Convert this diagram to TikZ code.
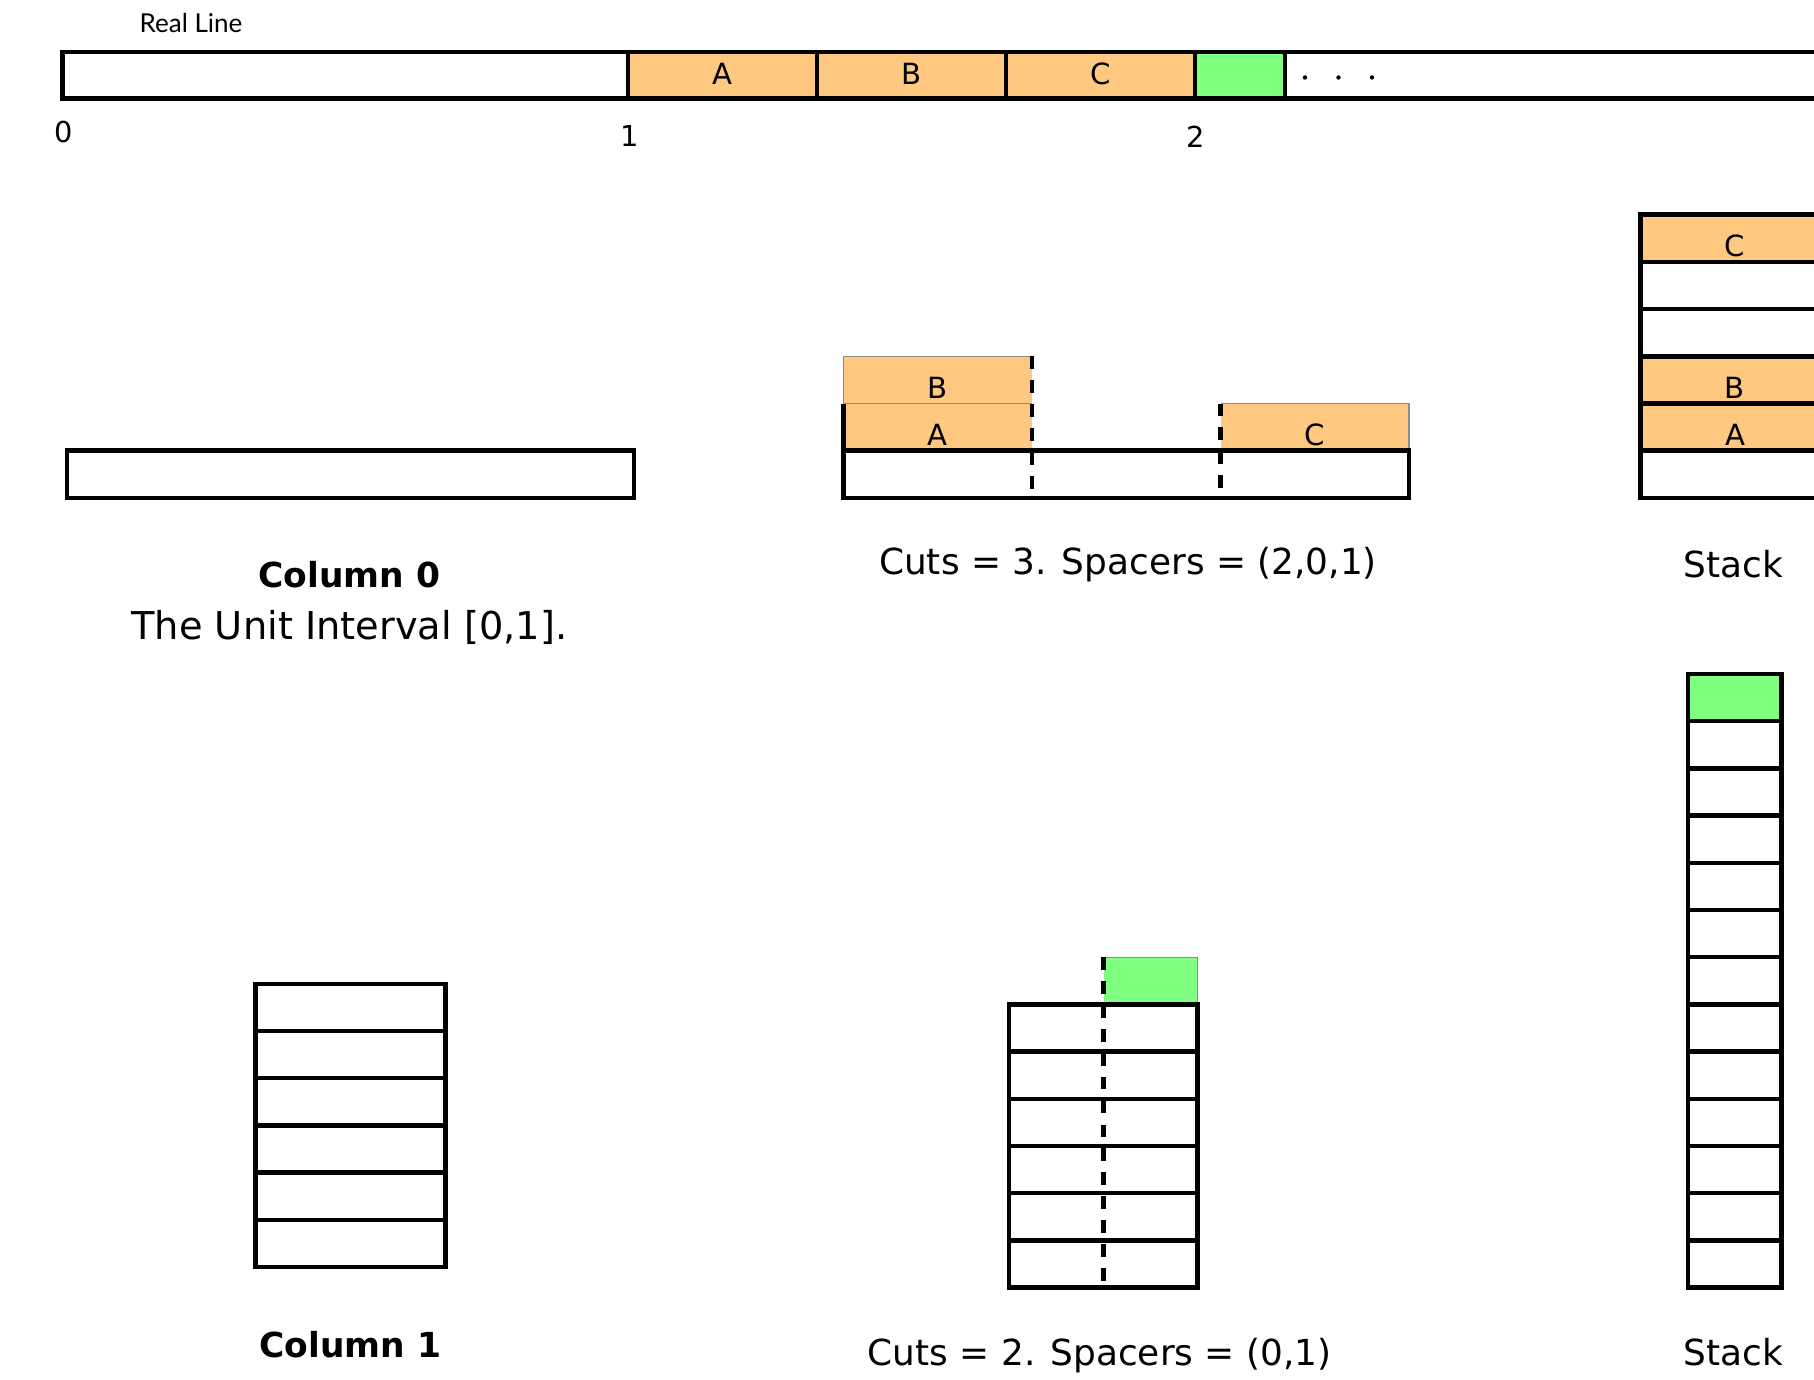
\documentclass[tikz,border=0pt]{standalone}
\usepackage{fontspec}
\setmainfont{DejaVu Sans}
\newfontfamily\gillfont{Lato}
\definecolor{orng}{HTML}{FFC880}
\definecolor{grn}{HTML}{80FF80}
\begin{document}
\begin{tikzpicture}[x=0.01cm,y=-0.01cm,
  box/.style={draw=black,line width=1.3pt},
  divider/.style={draw=black,line width=1pt},
  thinedge/.style={draw=black!45,line width=0.35pt},
  cutline/.style={draw=black,line width=1.3pt,dash pattern=on 3.6pt off 3.2pt},
  letter/.style={font=\fontsize{8.3}{10}\selectfont,inner sep=0pt,anchor=base},
  tick/.style={font=\fontsize{8.2}{10}\selectfont,inner sep=0pt},
  caption/.style={font=\fontsize{10.2}{12}\selectfont,inner sep=0pt,anchor=base},
  bcaption/.style={font=\fontsize{9.8}{12}\selectfont\bfseries,inner sep=0pt,anchor=base}]
\useasboundingbox (0,0) rectangle (1814,1380);
\clip (0,0) rectangle (1814,1380);

% ---------------- Real line ----------------
\node[font=\gillfont\fontsize{7.4}{9}\selectfont,inner sep=0pt] (reallabel) at (191,23) {Real Line};
\fill[orng] (628,52) rectangle (1195,98.3);
\fill[grn] (1195,52) rectangle (1285,98.3);
\foreach \x in {628,817,1006,1195,1285} \draw[divider] (\x,52) -- (\x,98.3);
\draw[box] (1850,52) -- (62.5,52) -- (62.5,98.3) -- (1850,98.3);
\node[letter] (rA) at (722.5,85) {A};
\node[letter] (rB) at (911.5,85) {B};
\node[letter] (rC) at (1100.5,85) {C};
\foreach \x in {1305,1338.5,1372} \fill (\x,77.5) circle (2.2);
\node[tick] (t0) at (63.6,132) {0};
\node[tick] (t1) at (629.4,136.5) {1};
\node[tick] (t2) at (1196,136.5) {2};

% ---------------- Column 0 ----------------
\draw[box] (67,450.8) rectangle (634,498);
\node[bcaption] (col0) at (349.4,588) {Column 0};
\node[caption,font=\fontsize{10.9}{12}\selectfont] (unit) at (349.4,640) {The Unit Interval [0,1].};

% ---------------- Cuts = 3 ----------------
\fill[orng] (843.4,403.6) rectangle (1032,450.8);
\fill[orng] (843.4,356.4) rectangle (1032,403.6);
\fill[orng] (1220.5,403.6) rectangle (1409,450.8);
\draw[thinedge] (1032,356.4) -- (843.4,356.4) -- (843.4,403.6) -- (1032,403.6);
\draw[thinedge] (1220.5,403.6) -- (1409,403.6) -- (1409,450.8);
\draw[box] (843.4,403.6) -- (843.4,450.8);
\draw[box] (843.4,450.8) rectangle (1409,498);
\draw[cutline] (1032,356.4) -- (1032,498);
\draw[cutline] (1220.5,403.6) -- (1220.5,498);
\node[letter] (mB) at (937.7,398.6) {B};
\node[letter] (mA) at (937.7,445.8) {A};
\node[letter] (mC) at (1314.7,445.8) {C};
\node[caption] (cuts3) at (1128,575) {Cuts = 3. Spacers = (2,0,1)};

% ---------------- Stack (top) ----------------
\foreach \i in {0,...,5} {
  \pgfmathsetmacro{\yb}{498-47.2*\i}
  \pgfmathsetmacro{\yt}{498-47.2*(\i+1)}
  \draw[box] (1640.5,\yt) rectangle (1829.5,\yb);
}
\foreach \i in {1,2,5} {
  \pgfmathsetmacro{\yb}{498-47.2*\i}
  \pgfmathsetmacro{\yt}{498-47.2*(\i+1)}
  \draw[box,fill=orng] (1640.5,\yt) rectangle (1829.5,\yb);
}
\node[letter] (sA) at (1735,445.8) {A};
\node[letter] (sB) at (1735,398.6) {B};
\node[letter] (sC) at (1735,257) {C};
\node[caption] (stack1) at (1733.6,578) {Stack};

% ---------------- Column 1 ----------------
\foreach \i in {0,...,5} {
  \pgfmathsetmacro{\yb}{1267-47.2*\i}
  \pgfmathsetmacro{\yt}{1267-47.2*(\i+1)}
  \draw[box] (255.7,\yt) rectangle (445.4,\yb);
}
\node[bcaption] (col1) at (350.5,1358) {Column 1};

% ---------------- Cuts = 2 ----------------
\fill[grn] (1103.7,957.2) rectangle (1197.4,1004.4);
\draw[thinedge] (1103.7,957.2) -- (1197.4,957.2) -- (1197.4,1004.4);
\foreach \i in {0,...,5} {
  \pgfmathsetmacro{\yb}{1287.6-47.2*\i}
  \pgfmathsetmacro{\yt}{1287.6-47.2*(\i+1)}
  \draw[box] (1008.8,\yt) rectangle (1197.4,\yb);
}
\draw[cutline] (1103.7,957.2) -- (1103.7,1287.6);
\node[caption] (cuts2) at (1099.6,1366) {Cuts = 2. Spacers = (0,1)};

% ---------------- Stack (bottom) ----------------
\foreach \i in {0,...,12} {
  \pgfmathsetmacro{\yb}{1287.6-47.2*\i}
  \pgfmathsetmacro{\yt}{1287.6-47.2*(\i+1)}
  \draw[box] (1687.9,\yt) rectangle (1781.6,\yb);
}
\draw[box,fill=grn] (1687.9,674) rectangle (1781.6,721.2);
\node[caption] (stack2) at (1733.6,1366) {Stack};
\end{tikzpicture}
\end{document}
